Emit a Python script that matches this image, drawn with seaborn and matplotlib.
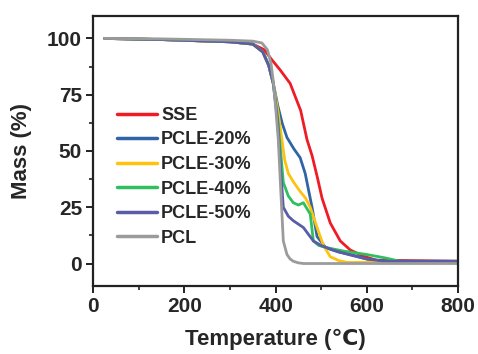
import matplotlib
matplotlib.use("Agg")
import matplotlib.pyplot as plt
import seaborn as sns
import pandas as pd
from matplotlib.ticker import MultipleLocator

sns.set_theme(style="ticks")
plt.rcParams['font.family'] = ['Liberation Sans', 'DejaVu Sans']
plt.rcParams['font.weight'] = 'bold'

series_names = ["SSE", "PCLE-20%", "PCLE-30%", "PCLE-40%", "PCLE-50%", "PCL"]
series_colors = ["#ee1c24", "#2f65a7", "#ffc20e", "#2fbf5f", "#5a5ca8", "#9b9b9b"]

sse_T = [25, 150, 300, 350, 375, 390, 410, 432, 455, 469, 480, 492, 502, 520, 542, 564, 590, 620, 800]
sse_M = [100, 99.5, 98.5, 97.5, 95, 91, 86, 80, 68, 55, 48, 38, 29, 18, 10, 6, 3.5, 1.5, 1]

p20_T = [25, 150, 300, 350, 372, 385, 395, 405, 415, 425, 440, 454, 465, 472, 480, 491, 510, 540, 564, 600, 640, 800]
p20_M = [100, 99.5, 98.5, 97.5, 94, 88, 80, 70, 62, 56, 51, 47, 40, 33, 25, 12, 7, 5, 4, 2, 1, 1]

p30_T = [25, 150, 300, 350, 372, 385, 395, 405, 414, 420, 428, 440, 454, 466, 476, 491, 505, 520, 540, 557, 800]
p30_M = [100, 99.5, 98.5, 97.5, 94, 88, 80, 68, 55, 46, 40, 36, 32, 29, 25, 16, 8, 3, 1.2, 0.5, 0.5]

p40_T = [25, 150, 300, 350, 372, 385, 395, 405, 411, 417, 428, 439, 450, 461, 476, 483, 495, 513, 550, 600, 640, 673, 800]
p40_M = [100, 99.5, 98.5, 97.5, 94, 88, 80, 64, 50, 36, 30, 27, 26, 27, 22, 10, 8, 7, 5.5, 4, 2.5, 1, 1]

p50_T = [25, 150, 300, 350, 372, 385, 395, 405, 411, 417, 428, 439, 450, 461, 472, 483, 500, 526, 560, 600, 640, 800]
p50_M = [100, 99.5, 98.5, 97.5, 94, 88, 80, 62, 42, 25, 21, 19, 17.5, 16, 13, 10, 8, 6, 4, 2, 1, 1]

pcl_T = [25, 150, 300, 350, 370, 382, 390, 395, 400, 406, 412, 417, 425, 432, 439, 450, 461, 800]
pcl_M = [100, 99.8, 99.2, 98.8, 98, 95, 89, 81, 70, 55, 30, 10, 4, 2, 1, 0.3, 0, 0]

all_T = [sse_T, p20_T, p30_T, p40_T, p50_T, pcl_T]
all_M = [sse_M, p20_M, p30_M, p40_M, p50_M, pcl_M]

frames = []
for name, T, M in zip(series_names, all_T, all_M):
    frames.append(pd.DataFrame({"Temperature": T, "Mass": M, "Sample": name}))
df = pd.concat(frames, ignore_index=True)

fig = plt.figure(figsize=(4.78, 3.54), dpi=100)
ax = fig.add_axes([0.195, 0.192, 0.763, 0.763])

sns.lineplot(data=df, x="Temperature", y="Mass", hue="Sample",
             hue_order=series_names, palette=dict(zip(series_names, series_colors)),
             sort=False, linewidth=2.0, ax=ax, estimator=None)

ax.set_xlim(0, 800)
ax.set_ylim(-10, 110)
ax.xaxis.set_major_locator(MultipleLocator(200))
ax.xaxis.set_minor_locator(MultipleLocator(100))
ax.yaxis.set_major_locator(MultipleLocator(25))
ax.yaxis.set_minor_locator(MultipleLocator(12.5))

for s in ax.spines.values():
    s.set_visible(True)
    s.set_linewidth(1.6)
    s.set_color("#222222")

ax.tick_params(axis="both", which="major", direction="out", length=5, width=1.4,
               labelsize=15, color="#222222", pad=3)
ax.tick_params(axis="both", which="minor", direction="out", length=3, width=1.2, color="#222222")
for lab in ax.get_xticklabels() + ax.get_yticklabels():
    lab.set_fontweight("bold")

ax.set_xlabel("Temperature (℃)", fontsize=16, fontweight="bold", labelpad=9)
ax.set_ylabel("Mass (%)", fontsize=16, fontweight="bold", labelpad=11)

leg = ax.legend(loc="upper left", bbox_to_anchor=(0.045, 0.69), frameon=False,
                fontsize=13, handlelength=2.2, handletextpad=0.25, labelspacing=0.42,
                borderaxespad=0.0)
for t in leg.get_texts():
    t.set_fontweight("bold")
for l in leg.get_lines():
    l.set_linewidth(2.5)

fig.savefig("out.png", dpi=100)
